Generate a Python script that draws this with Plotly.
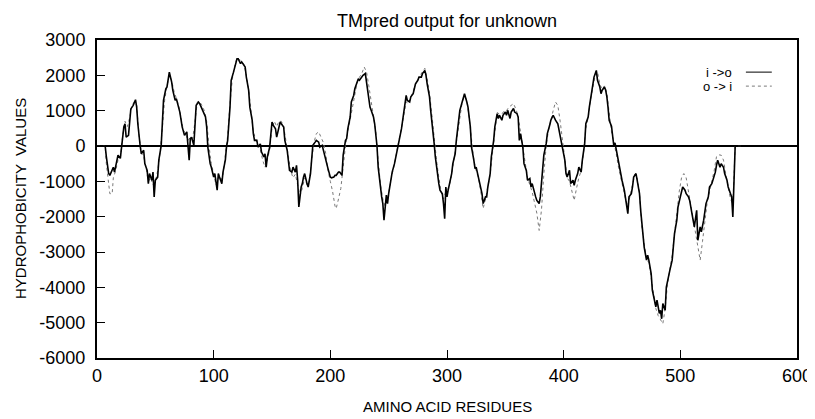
import plotly.graph_objects as go

title_text = "TMpred output for unknown"
x_title = "AMINO ACID RESIDUES"
y_title = "HYDROPHOBICITY  VALUES"
legend_names = ["i ->o", "o -> i"]
x_ticks = [0, 100, 200, 300, 400, 500, 600]
y_ticks = [3000, 2000, 1000, 0, -1000, -2000, -3000, -4000, -5000, -6000]

# i -> o (solid)
res_io = [0, 7, 8, 10, 11, 14, 15, 17, 18, 20, 21, 23, 24, 25, 27, 28, 29, 31, 33, 34, 35, 37, 38, 40, 41, 43, 44, 45, 47, 48,
          49, 50, 52, 53, 55, 56, 57, 59, 60, 62, 64, 65, 67, 68, 70, 71, 73, 74, 75, 77, 78, 79, 80, 81, 83, 84, 85, 87, 88, 90,
          91, 93, 94, 95, 97, 98, 100, 101, 103, 104, 105, 107, 108, 110, 111, 112, 114, 115, 117, 118, 120, 121, 123, 124, 125, 127, 128, 130, 131, 133,
          134, 135, 137, 138, 140, 141, 143, 144, 145, 146, 148, 150, 151, 153, 154, 156, 157, 158, 160, 161, 163, 164, 165, 167, 168, 170, 171, 172, 173, 175,
          176, 177, 178, 180, 181, 183, 184, 185, 187, 188, 190, 191, 193, 194, 195, 197, 198, 200, 201, 203, 204, 205, 207, 208, 210, 211, 213, 214, 215, 217,
          218, 220, 221, 223, 224, 225, 227, 228, 230, 231, 233, 234, 235, 237, 238, 240, 241, 243, 244, 245, 246, 248, 249, 250, 252, 253, 255, 256, 258, 259,
          261, 262, 263, 265, 266, 268, 269, 271, 272, 273, 275, 276, 278, 279, 281, 282, 283, 285, 286, 287, 288, 289, 290, 291, 292, 293, 294, 296, 297, 298,
          299, 300, 301, 303, 304, 305, 307, 308, 310, 311, 313, 314, 315, 317, 318, 320, 321, 323, 324, 325, 327, 328, 330, 331, 333, 334, 335, 337, 338, 340,
          341, 343, 344, 345, 347, 348, 350, 351, 352, 354, 355, 357, 358, 360, 361, 362, 363, 365, 366, 368, 369, 371, 372, 373, 375, 376, 377, 379, 380, 382,
          383, 385, 386, 388, 389, 391, 392, 393, 395, 396, 398, 399, 401, 402, 403, 405, 406, 408, 409, 410, 412, 413, 415, 416, 418, 419, 421, 422, 423, 425,
          426, 428, 429, 431, 432, 433, 435, 436, 437, 438, 439, 441, 442, 443, 444, 446, 447, 449, 450, 452, 453, 455, 456, 458, 459, 460, 462, 463, 465, 466,
          468, 469, 471, 472, 473, 475, 476, 478, 479, 480, 482, 483, 484, 485, 487, 488, 490, 491, 493, 494, 495, 497, 498, 500, 501, 502, 504, 505, 507, 508,
          510, 511, 512, 514, 515, 517, 518, 520, 521, 522, 524, 525, 527, 528, 530, 531, 532, 534, 535, 537, 538, 540, 541, 543, 544, 545, 546, 547, 554]
val_io = [0, 0, -300, -780, -830, -600, -740, -450, -260, -350, -30, 540, 630, 250, 300, 630, 1050, 1150, 1310, 1100, 630, 0, -220, -120, -500, -690, -1065, -780, -970, -740,
          -1440, -970, -880, -400, 0, 630, 1290, 1620, 1670, 2090, 1810, 1575, 1290, 1340, 1100, 960, 540, 400, 300, 400, 0, -400, 210, 250, 20, 630, 1150, 1245, 1200, 1050,
          960, 820, 540, -30, -500, -600, -880, -780, -1250, -780, -880, -1065, -740, -400, -30, 160, 1100, 1860, 2090, 2235, 2470, 2470, 2330, 2380, 2330, 2235, 1950, 1575, 1100, 730,
          350, 160, 160, -30, 60, -170, -310, -220, -600, -310, -30, 680, 590, 490, 250, 540, 680, 630, 540, 160, -120, -400, -690, -740, -600, -740, -550, -970, -1725, -1160,
          -1065, -880, -780, -1065, -1160, -780, -260, 20, 110, 160, 110, -30, 20, -120, -310, -500, -640, -880, -900, -880, -830, -830, -740, -740, -830, -260, 160, 210, 490, 820,
          1245, 1430, 1620, 1810, 1900, 1860, 1950, 2000, 2050, 1810, 1480, 1100, 1010, 820, 630, 0, -600, -1250, -1440, -1630, -2100, -1390, -1630, -1350, -880, -740, -500, -310, -30, 160,
          490, 730, 1100, 1430, 1290, 1245, 1390, 1480, 1620, 1760, 1860, 1950, 1950, 2050, 2140, 2000, 1760, 1390, 1010, 730, 400, 66, -310, -600, -780, -1065, -1250, -1350, -1630, -2055,
          -1160, -1440, -1250, -970, -780, -500, -220, 160, 730, 1010, 1245, 1390, 1480, 1245, 1100, 540, -30, -400, -640, -600, -880, -1065, -1350, -1630, -1440, -1440, -1160, -780, -310, 160,
          540, 915, 780, 870, 730, 870, 960, 870, 1010, 780, 960, 1060, 960, 915, 820, 160, 350, -30, -500, -690, -970, -920, -1160, -1065, -1350, -1440, -1540, -1630, -1440, -600,
          -260, 66, 350, 585, 730, 870, 780, 730, 630, 440, 160, -30, -400, -780, -880, -690, -1065, -970, -1110, -970, -780, -600, -740, -400, 66, 630, 820, 1100, 1340, 1670,
          1950, 2140, 1860, 1670, 1480, 1580, 1670, 1580, 1400, 1100, 730, 560, 160, 0, 90, -260, -500, -780, -970, -1250, -1440, -1915, -1440, -1350, -1160, -880, -780, -970, -1350, -1820,
          -2670, -2860, -3230, -3090, -3230, -3610, -4080, -4460, -4550, -4360, -4740, -4650, -4890, -4460, -4650, -3990, -3610, -3520, -3230, -2860, -2480, -2100, -1725, -1440, -1250, -1160, -1250, -1350, -1440, -1540,
          -1920, -2100, -2290, -1820, -2670, -2290, -2430, -2100, -1920, -1630, -1440, -1160, -1065, -970, -740, -550, -400, -600, -500, -600, -780, -970, -1160, -1350, -1440, -2010, -970, 0, 0]

# o -> i (dotted)
res_oi = [0, 7, 8, 10, 11, 13, 14, 16, 18, 20, 22, 24, 26, 28, 30, 32, 34, 36, 38, 40, 42, 44, 46, 48, 50, 52, 54, 56, 58, 60,
          62, 64, 66, 68, 70, 72, 74, 76, 78, 80, 82, 84, 86, 88, 90, 92, 94, 96, 98, 100, 102, 104, 106, 108, 110, 112, 114, 116, 118, 120,
          122, 124, 126, 128, 130, 132, 134, 136, 138, 140, 142, 144, 146, 148, 150, 152, 154, 156, 158, 160, 162, 164, 166, 168, 170, 172, 174, 176, 178, 180,
          182, 184, 186, 188, 190, 192, 194, 196, 198, 200, 202, 204, 205, 207, 209, 211, 213, 215, 217, 219, 221, 223, 225, 227, 229, 231, 233, 235, 237, 239,
          241, 243, 245, 247, 249, 251, 253, 255, 257, 259, 261, 263, 265, 267, 269, 271, 273, 275, 277, 279, 281, 283, 285, 287, 289, 291, 293, 295, 297, 299,
          301, 303, 305, 307, 309, 311, 313, 315, 317, 319, 321, 323, 325, 327, 329, 331, 333, 335, 337, 339, 341, 343, 345, 347, 349, 351, 353, 355, 357, 359,
          361, 363, 365, 367, 369, 371, 373, 375, 377, 379, 381, 383, 385, 387, 389, 391, 393, 395, 397, 399, 401, 403, 405, 407, 409, 411, 413, 415, 417, 419,
          421, 423, 425, 427, 429, 431, 433, 435, 437, 439, 441, 443, 445, 447, 449, 451, 453, 455, 457, 459, 461, 463, 465, 467, 469, 471, 473, 475, 477, 479,
          481, 483, 485, 487, 489, 491, 493, 495, 497, 499, 501, 503, 505, 507, 509, 511, 513, 515, 517, 519, 521, 523, 525, 527, 529, 531, 533, 535, 537, 539,
          541, 543, 545, 546, 547, 554]
val_oi = [0, 0, -500, -1100, -1350, -1350, -900, -700, -400, -350, 300, 700, 550, 800, 1150, 1250, 1150, 300, -200, -300, -600, -1000, -900, -1100, -1000, -700, -200, 500, 1300, 1700,
          2000, 1850, 1550, 1350, 1150, 800, 450, 350, 150, 250, 200, 700, 1250, 1250, 1150, 1000, 700, 0, -500, -800, -1100, -900, -1000, -800, -300, 300, 1200, 1900, 2250, 2500,
          2450, 2400, 2300, 2000, 1600, 1000, 400, 200, 0, -100, -400, -600, -400, -100, 500, 700, 550, 700, 700, 550, 100, -300, -700, -900, -800, -1100, -1400, -1200, -900, -1100,
          -1000, -400, 100, 350, 400, 250, 100, -200, -700, -1000, -1300, -1700, -1770, -1500, -1200, -600, 0, 400, 750, 1200, 1550, 1800, 1950, 2050, 2235, 2100, 1700, 1300, 900, 400,
          -400, -1100, -1500, -1700, -1500, -1100, -800, -500, -100, 200, 500, 900, 1250, 1200, 1350, 1550, 1750, 1900, 2000, 2100, 2200, 1900, 1500, 900, 200, -400, -900, -1300, -1500, -1300,
          -1200, -1000, -600, -100, 400, 900, 1250, 1400, 1300, 800, 100, -400, -700, -900, -1300, -1770, -1500, -1200, -800, -200, 400, 950, 900, 900, 1000, 1000, 1100, 1150, 1200, 1050,
          850, 400, 0, -500, -900, -1100, -1300, -1600, -1900, -2390, -1800, -800, 0, 450, 750, 1000, 1245, 1150, 700, 200, -400, -900, -1000, -1300, -1540, -1200, -900, -700, -200, 500,
          800, 1300, 1700, 2000, 2100, 1750, 1600, 1700, 1500, 900, 400, 100, -200, -600, -900, -1200, -1500, -1700, -1400, -1100, -800, -900, -1300, -2300, -2800, -3200, -3300, -3700, -4200, -4600,
          -4800, -4900, -5030, -4600, -3900, -3500, -3100, -2500, -1800, -1300, -900, -780, -900, -1300, -1700, -2100, -2500, -2900, -3230, -2700, -2200, -1600, -1300, -1000, -700, -300, -250, -260, -400, -800,
          -1200, -1500, -1650, -900, 0, 0]

font_family = "Liberation Sans, Arial, sans-serif"

fig = go.Figure()
fig.add_trace(go.Scatter(x=res_oi, y=val_oi, mode="lines", name=legend_names[1],
                         line=dict(color="#7a7a7a", width=1, dash="dot"), showlegend=False))
fig.add_trace(go.Scatter(x=res_io, y=val_io, mode="lines", name=legend_names[0],
                         line=dict(color="#000000", width=1.6), showlegend=False))

# legend drawn as text then line sample (gnuplot style)
fig.add_annotation(x=0.91, y=0.899, xref="paper", yref="paper", text=legend_names[0], showarrow=False,
                   xanchor="right", yanchor="middle", font=dict(family=font_family, size=13, color="black"))
fig.add_annotation(x=0.91, y=0.855, xref="paper", yref="paper", text=legend_names[1], showarrow=False,
                   xanchor="right", yanchor="middle", font=dict(family=font_family, size=13, color="black"))
fig.add_shape(type="line", xref="paper", yref="paper", x0=0.927, x1=0.964, y0=0.899, y1=0.899,
              line=dict(color="#000000", width=1))
fig.add_shape(type="line", xref="paper", yref="paper", x0=0.927, x1=0.964, y0=0.855, y1=0.855,
              line=dict(color="#7a7a7a", width=1, dash="dot"))

# axis titles as annotations for exact placement
fig.add_annotation(x=0.5, y=-0.154, xref="paper", yref="paper", text=x_title, showarrow=False,
                   xanchor="center", yanchor="middle", font=dict(family=font_family, size=15, color="black"))
fig.add_annotation(x=-0.11, y=0.5, xref="paper", yref="paper", text=y_title, showarrow=False, textangle=-90,
                   xanchor="center", yanchor="middle", font=dict(family=font_family, size=15, color="black"))

# the page adds an 8px body margin, so the figure is sized to fit the 815x419 window
fig.update_layout(
    width=807, height=411,
    margin=dict(l=89, r=18, t=32, b=61),
    paper_bgcolor="white", plot_bgcolor="white",
    font=dict(family=font_family, size=18, color="black"),
    title=dict(text=title_text, x=0.5, xref="paper", y=0.968, yref="container", yanchor="middle",
               font=dict(family=font_family, size=18, color="black")),
)
fig.update_xaxes(range=[0, 600], tickvals=x_ticks, ticktext=[str(t) for t in x_ticks], automargin=False,
                 showgrid=False, zeroline=False, showline=True, linecolor="black", linewidth=2,
                 mirror=True, ticks="inside", ticklen=8, tickcolor="black", tickwidth=1,
                 tickfont=dict(size=18))
fig.update_yaxes(range=[-6000, 3000], tickvals=y_ticks, ticktext=[str(t) for t in y_ticks], automargin=False,
                 showgrid=False, zeroline=True, zerolinecolor="black", zerolinewidth=2,
                 showline=True, linecolor="black", linewidth=2, ticklabelstandoff=6,
                 mirror=True, ticks="inside", ticklen=8, tickcolor="black", tickwidth=1,
                 tickfont=dict(size=18))

fig.write_html("out.html")
